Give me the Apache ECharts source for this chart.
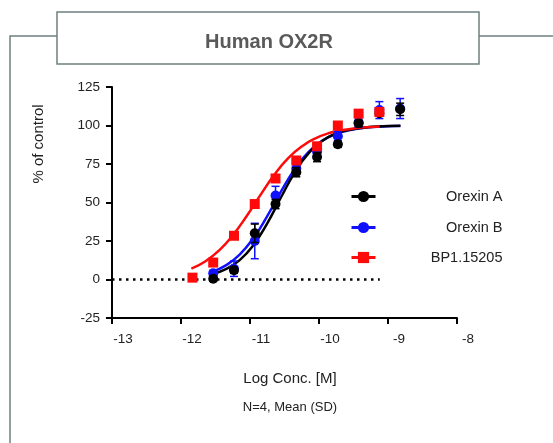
<!DOCTYPE html>
<html>
<head>
<meta charset="utf-8">
<script src="https://cdn.jsdelivr.net/npm/echarts@6/dist/echarts.min.js"></script>
<style>html,body{margin:0;padding:0;background:#fff;}#c{width:553px;height:443px;}</style>
</head>
<body>
<div id="c"></div>
<script>
// ---- data ----
const xTicks = [-13, -12, -11, -10, -9, -8];
const yTicks = [-25, 0, 25, 50, 75, 100, 125];

const concA = [-11.533, -11.232, -10.931, -10.630, -10.329, -10.028, -9.727, -9.426, -9.125, -8.824];
const orexinA = [0.5, 6, 30, 49, 69.7, 79.5, 87.8, 101.4, 108, 110.5];
const orexinA_sd = [1.5, 2, 6, 3, 3, 3, 2, 2, 2, 4];

const concB = [-11.533, -11.232, -10.931, -10.630, -10.329, -10.028, -9.727, -9.426, -9.125, -8.824];
const orexinB = [4, 7, 25, 54.5, 72, 83, 93, 102, 110, 111];
const orexinB_sd = [2, 5, 11.5, 6, 3, 3, 3, 3, 5.5, 6.5];

const concBP = [-11.834, -11.533, -11.232, -10.931, -10.630, -10.329, -10.028, -9.727, -9.426, -9.125];
const bp = [1.2, 11, 28.4, 49, 65.6, 77.3, 86.5, 100, 107.7, 108.8];
const bp_sd = [1, 2, 2, 2, 2, 2, 2, 2, 2, 2];

// fitted curves
const curveX_A = [-11.55, -11.35, -11.15, -10.95, -10.75, -10.55, -10.35, -10.15, -9.95, -9.75, -9.55, -9.35, -9.15, -8.95, -8.82];
const curveA = [3.5, 6.8, 12.6, 22.4, 36.5, 53.4, 69.6, 82.0, 90.1, 94.8, 97.3, 98.6, 99.3, 99.7, 99.8];
const curveX_B = [-11.55, -11.35, -11.15, -10.95, -10.75, -10.55, -10.35, -10.15, -9.95, -9.75, -9.55, -9.35, -9.15, -8.95, -8.82];
const curveB = [5.0, 9.2, 16.2, 26.9, 41.2, 57.2, 71.8, 82.9, 90.2, 94.6, 97.1, 98.5, 99.2, 99.6, 99.7];
const curveX_BP = [-11.85, -11.65, -11.45, -11.25, -11.05, -10.85, -10.65, -10.45, -10.25, -10.05, -9.85, -9.65, -9.45, -9.25, -9.12];
const curveBP = [7.1, 11.7, 18.8, 28.7, 41.1, 54.8, 67.8, 78.6, 86.4, 91.7, 95.1, 97.1, 98.3, 99.0, 99.3];

const zeroLineX = [-13, -9.12];
const zeroLineY = [0, 0];

const names = ['Orexin A', 'Orexin B', 'BP1.15205'];
// --------------------------------------

const FONT = '"Liberation Sans", Arial, sans-serif';
const cBlack = '#000000', cBlue = '#1010ff', cRed = '#ff0a0a';
const frameColor = '#6f8080';

function pairs(xs, ys) { return xs.map((x, i) => [x, ys[i]]); }
function errData(xs, ys, sd) { return xs.map((x, i) => [x, ys[i] - sd[i], ys[i] + sd[i]]); }
function errRender(color) {
  return function (params, api) {
    const x = api.value(0), lo = api.value(1), hi = api.value(2);
    const p1 = api.coord([x, lo]), p2 = api.coord([x, hi]);
    const w = 4;
    const st = { stroke: color, lineWidth: 1.5 };
    return {
      type: 'group',
      children: [
        { type: 'line', shape: { x1: p1[0], y1: p1[1], x2: p2[0], y2: p2[1] }, style: st },
        { type: 'line', shape: { x1: p1[0] - w, y1: p1[1], x2: p1[0] + w, y2: p1[1] }, style: st },
        { type: 'line', shape: { x1: p2[0] - w, y1: p2[1], x2: p2[0] + w, y2: p2[1] }, style: st }
      ]
    };
  };
}

const legendCommon = {
  orient: 'vertical',
  itemWidth: 24,
  itemHeight: 14,
  selectedMode: false,
  formatter: '{a|{name}}',
  lineStyle: { width: 3 },
  textStyle: {
    fontFamily: FONT, fontSize: 14.5, color: '#222',
    rich: { a: { width: 122, align: 'right', fontFamily: FONT, fontSize: 14.5, color: '#222' } }
  }
};

const chart = echarts.init(document.getElementById('c'), null, { renderer: 'canvas' });
chart.setOption({
  animation: false,
  backgroundColor: '#fff',
  title: {
    text: 'Human OX2R',
    left: 264, top: 27, textAlign: 'center',
    textStyle: { fontFamily: FONT, fontSize: 20, fontWeight: 'bold', color: '#5a5a5a' }
  },
  grid: { left: 112, right: 96, top: 87, bottom: 125, containLabel: false },
  xAxis: {
    type: 'value', min: xTicks[0], max: xTicks[xTicks.length - 1], interval: 1,
    axisLine: { onZero: false, lineStyle: { color: '#000', width: 2 } },
    axisTick: { length: 6, lineStyle: { color: '#000', width: 2 } },
    axisLabel: { margin: 14, padding: [0, 0, 0, 22], fontFamily: FONT, fontSize: 13.5, color: '#222' },
    splitLine: { show: false }
  },
  yAxis: {
    type: 'value', min: yTicks[0], max: yTicks[yTicks.length - 1], interval: 25,
    axisLine: { onZero: false, lineStyle: { color: '#000', width: 2 } },
    axisTick: { length: 6, lineStyle: { color: '#000', width: 2 } },
    axisLabel: { margin: 12, fontFamily: FONT, fontSize: 13.5, color: '#222' },
    splitLine: { show: false }
  },
  legend: [
    Object.assign({ data: [names[0]], left: 345, top: 184 }, legendCommon),
    Object.assign({ data: [names[1]], left: 345, top: 215 }, legendCommon),
    Object.assign({ data: [names[2]], left: 345, top: 245 }, legendCommon)
  ],
  graphic: [
    { type: 'polyline', shape: { points: [[57, 36], [10, 36], [10, 443]] }, style: { stroke: frameColor, lineWidth: 1.5, fill: null }, z: 0 },
    { type: 'line', shape: { x1: 479, y1: 36, x2: 553, y2: 36 }, style: { stroke: frameColor, lineWidth: 1.5 }, z: 0 },
    { type: 'rect', shape: { x: 57, y: 12, width: 422, height: 52 }, style: { stroke: frameColor, lineWidth: 1.5, fill: '#fff' }, z: 0 },
    { type: 'text', x: 39, y: 144, rotation: Math.PI / 2, style: { text: '% of control', font: '15px ' + FONT, fill: '#222', textAlign: 'center', textVerticalAlign: 'middle' } },
    { type: 'text', x: 290, y: 379, style: { text: 'Log Conc. [M]', font: '15px ' + FONT, fill: '#222', textAlign: 'center', textVerticalAlign: 'middle' } },
    { type: 'text', x: 290, y: 407, style: { text: 'N=4, Mean (SD)', font: '13px ' + FONT, fill: '#222', textAlign: 'center', textVerticalAlign: 'middle' } }
  ],
  series: [
    { type: 'line', name: 'zero', data: pairs(zeroLineX, zeroLineY), symbol: 'none', silent: true,
      lineStyle: { color: '#000', width: 2.5, type: [2.5, 4.5], cap: 'butt' }, z: 1 },
    { type: 'line', name: names[1], data: pairs(curveX_B, curveB), smooth: true, showSymbol: false, symbol: 'circle',
      color: cBlue, lineStyle: { color: cBlue, width: 2.5 }, itemStyle: { color: cBlue }, z: 2 },
    { type: 'line', name: names[0], data: pairs(curveX_A, curveA), smooth: true, showSymbol: false, symbol: 'circle',
      color: cBlack, lineStyle: { color: cBlack, width: 2.5 }, itemStyle: { color: cBlack }, z: 3 },
    { type: 'line', name: names[2], data: pairs(curveX_BP, curveBP), smooth: true, showSymbol: false, symbol: 'rect',
      color: cRed, lineStyle: { color: cRed, width: 2.5 }, itemStyle: { color: cRed }, z: 4 },
    { type: 'custom', name: 'errB', data: errData(concB, orexinB, orexinB_sd), renderItem: errRender(cBlue), z: 5 },
    { type: 'scatter', name: 'ptsB', data: pairs(concB, orexinB), symbol: 'circle', symbolSize: 10, itemStyle: { color: cBlue, opacity: 1 }, z: 6 },
    { type: 'custom', name: 'errA', data: errData(concA, orexinA, orexinA_sd), renderItem: errRender(cBlack), z: 7 },
    { type: 'scatter', name: 'ptsA', data: pairs(concA, orexinA), symbol: 'circle', symbolSize: 10, itemStyle: { color: cBlack, opacity: 1 }, z: 8 },
    { type: 'custom', name: 'errBP', data: errData(concBP, bp, bp_sd), renderItem: errRender(cRed), z: 9 },
    { type: 'scatter', name: 'ptsBP', data: pairs(concBP, bp), symbol: 'rect', symbolSize: 10, itemStyle: { color: cRed, opacity: 1 }, z: 10 }
  ]
});
</script>
</body>
</html>
